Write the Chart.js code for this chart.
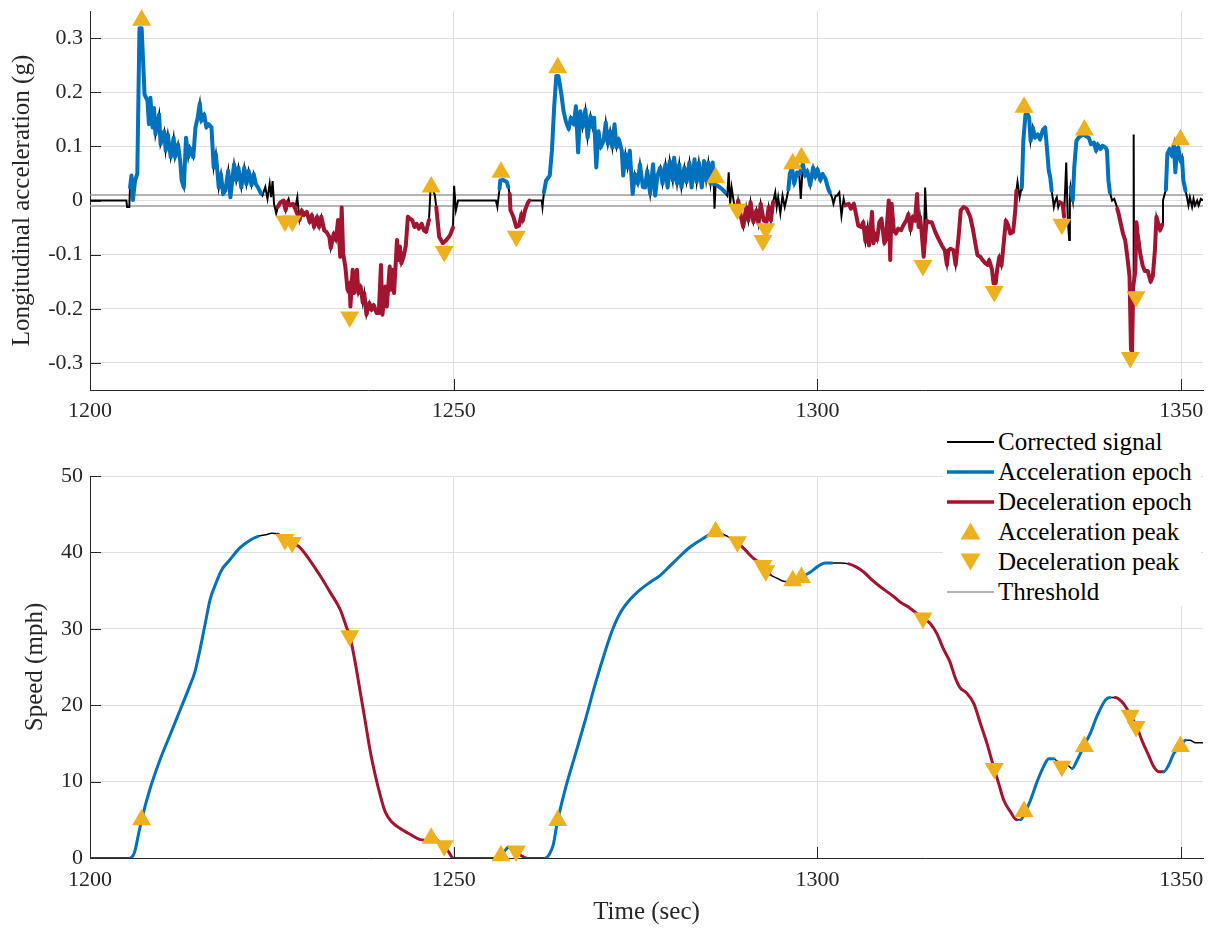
<!DOCTYPE html>
<html>
<head>
<meta charset="utf-8">
<script src="https://cdn.jsdelivr.net/npm/chart.js@4/dist/chart.umd.min.js"></script>
<style>
  body { margin: 0; background: #fff; }
  #wrap { position: relative; width: 1214px; height: 928px; }
  canvas { position: absolute; left: 0; }
  #accChart { top: 0; }
  #speedChart { top: 420px; }
  #legend { position: absolute; left: 943px; top: 424px; width: 258px; height: 182px; background: #fff; }
  .row { position: absolute; left: 0; height: 24px; width: 258px; }
  .row svg { position: absolute; left: 2px; top: 0; }
  .row span { position: absolute; left: 55px; top: -2px; line-height: 24px; font: 25px "Liberation Serif", serif; color: #000; white-space: nowrap; }
</style>
</head>
<body>
<div id="wrap">
  <canvas id="accChart" width="1214" height="420"></canvas>
  <canvas id="speedChart" width="1214" height="508"></canvas>
  <div id="legend"></div>
</div>
<script>
// time axis
const timeTicks = [1200, 1250, 1300, 1350];
const accTicks = [-0.3, -0.2, -0.1, 0, 0.1, 0.2, 0.3];
const speedTicks = [0, 10, 20, 30, 40, 50];
const thresholdLevels = [0.01, -0.01];

// epochs [start, end] in sec
const accelEpochs = [[1205.6, 1223.5], [1256.3, 1257.5], [1262.5, 1285.7], [1286.2, 1287.4], [1296.0, 1301.6], [1328.1, 1332.2], [1334.8, 1340.2], [1347.9, 1350.6]];
const decelEpochs = [[1225.8, 1246.6], [1247.6, 1249.9], [1257.7, 1260.4], [1289.0, 1293.9], [1303.7, 1327.3], [1333.3, 1334.0], [1341.2, 1347.4]];

// longitudinal acceleration (g), [time, value]
const accSignal = [
  [1200, 0], [1205.0, 0], [1205.1, -0.012], [1205.4, -0.012], [1205.5, 0.024], [1205.7, 0.046], [1205.9, 0.001], [1206.2, 0.037],
  [1206.5, 0.049], [1206.8, 0.318], [1207.1, 0.318], [1207.5, 0.196], [1207.9, 0.184], [1208.1, 0.141], [1208.3, 0.19], [1208.6, 0.135],
  [1208.8, 0.171], [1209.0, 0.122], [1209.5, 0.159], [1209.7, 0.104], [1210.2, 0.128], [1210.4, 0.092], [1210.7, 0.122], [1211.1, 0.08],
  [1211.5, 0.116], [1211.7, 0.08], [1212.1, 0.104], [1212.4, 0.073], [1212.6, 0.037], [1212.9, 0.024], [1213.2, 0.116], [1213.5, 0.08],
  [1213.7, 0.098], [1214.2, 0.08], [1214.5, 0.135], [1214.8, 0.153], [1215.1, 0.18], [1215.3, 0.147], [1215.7, 0.159], [1216.0, 0.135],
  [1216.3, 0.141], [1216.7, 0.135], [1217.0, 0.061], [1217.3, 0.086], [1217.7, 0.024], [1218.0, 0.049], [1218.3, 0.012], [1218.6, 0.018],
  [1219.0, 0.055], [1219.3, 0.006], [1219.8, 0.067], [1220.1, 0.037], [1220.4, 0.061], [1220.8, 0.024], [1221.2, 0.061], [1221.5, 0.03],
  [1221.8, 0.055], [1222.2, 0.028], [1222.5, 0.049], [1222.8, 0.03], [1223.1, 0.024], [1223.5, 0.013],
  [1223.7, 0.009], [1224.1, 0.025], [1224.4, 0.003], [1224.7, 0.031], [1224.9, 0.006], [1225.1, 0.036], [1225.3, -0.006], [1225.6, -0.024],
  [1225.8, -0.012], [1226.2, -0.003], [1226.6, 0.0], [1226.9, -0.018], [1227.1, -0.003], [1227.5, -0.009], [1227.9, -0.006], [1228.2, -0.015],
  [1228.8, -0.036], [1229.1, -0.018], [1229.4, -0.027], [1229.8, -0.021], [1230.2, -0.04], [1230.5, -0.027], [1230.8, -0.049], [1231.2, -0.03],
  [1231.5, -0.049], [1231.8, -0.03], [1232.2, -0.055], [1232.5, -0.058], [1232.9, -0.067], [1233.1, -0.088], [1233.5, -0.061], [1233.8, -0.073],
  [1234.1, -0.036], [1234.4, -0.104], [1234.6, -0.013], [1234.8, -0.098], [1235.1, -0.122], [1235.4, -0.165], [1235.7, -0.153], [1235.8, -0.196],
  [1236.1, -0.128], [1236.3, -0.171], [1236.7, -0.128], [1236.9, -0.171], [1237.2, -0.159], [1237.5, -0.189], [1237.7, -0.171], [1238.0, -0.211],
  [1238.4, -0.189], [1238.7, -0.202], [1239.0, -0.193], [1239.4, -0.208], [1239.7, -0.208], [1240.0, -0.119], [1240.2, -0.211], [1240.6, -0.159],
  [1240.8, -0.196], [1241.2, -0.122], [1241.4, -0.165], [1241.6, -0.128], [1241.8, -0.171], [1242.2, -0.073], [1242.4, -0.11], [1242.6, -0.085],
  [1242.8, -0.116], [1243.1, -0.104], [1243.4, -0.085], [1243.7, -0.03], [1244.0, -0.034], [1244.3, -0.036], [1244.6, -0.049], [1244.9, -0.043],
  [1245.2, -0.052], [1245.6, -0.043], [1245.9, -0.055], [1246.2, -0.058], [1246.6, -0.036],
  [1246.8, 0.018], [1247.1, 0.022], [1247.4, 0.01], [1247.6, -0.012],
  [1248.0, -0.067], [1248.5, -0.079], [1249.0, -0.073], [1249.5, -0.064], [1249.9, -0.05],
  [1250.05, 0.027], [1250.3, -0.018], [1250.6, 0.0], [1255.8, 0.0], [1256.0, -0.012], [1256.3, 0.022],
  [1256.4, 0.037], [1256.8, 0.038], [1257.3, 0.034], [1257.5, 0.025], [1257.7, 0.012],
  [1257.8, -0.018], [1258.2, -0.03], [1258.6, -0.049], [1259.0, -0.046], [1259.3, -0.025], [1259.5, -0.037], [1259.8, -0.018], [1260.2, -0.004], [1260.4, 0.0],
  [1262.1, 0.0], [1262.2, -0.012], [1262.4, 0.015],
  [1262.7, 0.037], [1263.2, 0.046], [1263.5, 0.092], [1263.8, 0.171], [1264.1, 0.23], [1264.4, 0.23], [1264.8, 0.196], [1265.1, 0.165],
  [1265.4, 0.147], [1265.8, 0.132], [1266.1, 0.153], [1266.5, 0.141], [1266.8, 0.174], [1267.1, 0.089], [1267.4, 0.165], [1267.7, 0.135],
  [1268.1, 0.168], [1268.4, 0.116], [1268.8, 0.156], [1269.1, 0.135], [1269.3, 0.153], [1269.6, 0.061], [1269.9, 0.128], [1270.2, 0.098],
  [1270.6, 0.11], [1270.9, 0.144], [1271.2, 0.104], [1271.5, 0.128], [1271.8, 0.098], [1272.1, 0.141], [1272.4, 0.098], [1272.7, 0.113],
  [1273.1, 0.092], [1273.3, 0.046], [1273.6, 0.086], [1273.9, 0.061], [1274.2, 0.092], [1274.6, 0.012], [1274.9, 0.049], [1275.3, 0.031],
  [1275.6, 0.067], [1276.0, 0.025], [1276.3, 0.024], [1276.6, 0.055], [1277.0, 0.012], [1277.4, 0.067], [1277.7, 0.009], [1278.0, 0.046],
  [1278.4, 0.061], [1278.7, 0.031], [1279.1, 0.067], [1279.4, 0.024], [1279.7, 0.073], [1280.1, 0.037], [1280.3, 0.079], [1280.7, 0.031],
  [1281.0, 0.067], [1281.3, 0.024], [1281.7, 0.061], [1282.0, 0.034], [1282.4, 0.07], [1282.7, 0.024], [1283.1, 0.076], [1283.4, 0.034],
  [1283.7, 0.07], [1284.1, 0.024], [1284.4, 0.073], [1284.7, 0.037], [1285.0, 0.07], [1285.3, 0.031], [1285.6, 0.07],
  [1285.75, 0.03], [1285.85, -0.015], [1286.0, 0.03], [1286.2, 0.028],
  [1286.5, 0.025], [1286.9, 0.021], [1287.3, 0.015],
  [1287.6, 0.009], [1287.8, 0.052], [1288.0, -0.006], [1288.2, 0.024], [1288.5, -0.003], [1288.8, -0.021], [1289.0, -0.01],
  [1289.1, 0.0], [1289.5, -0.031], [1289.8, -0.049], [1290.2, -0.012], [1290.5, -0.037], [1290.8, -0.003], [1291.2, -0.04], [1291.6, -0.018],
  [1291.9, -0.043], [1292.2, -0.006], [1292.6, -0.037], [1293.0, -0.04], [1293.3, -0.012], [1293.6, -0.037], [1293.9, -0.003],
  [1294.2, 0.015], [1294.4, -0.012], [1294.6, 0.006], [1294.9, -0.024], [1295.2, 0.009], [1295.5, -0.012], [1295.8, 0.006], [1296.0, 0.02],
  [1296.2, 0.049], [1296.5, 0.061], [1296.8, 0.031], [1297.2, 0.052], [1297.5, 0.049], [1298.0, 0.067], [1298.3, 0.046], [1298.6, 0.055],
  [1299.0, 0.028], [1299.4, 0.061], [1299.7, 0.043], [1300.0, 0.058], [1300.4, 0.037], [1300.7, 0.049], [1301.1, 0.04], [1301.5, 0.021],
  [1301.7, 0.015], [1302.0, 0.006], [1302.2, -0.006], [1302.5, 0.009], [1302.7, 0.009], [1303.0, 0.015], [1303.3, -0.028], [1303.6, 0.003],
  [1303.8, -0.009], [1304.3, -0.006], [1304.6, -0.015], [1305.0, -0.006], [1305.3, -0.025], [1305.6, -0.046], [1306.0, -0.049], [1306.3, -0.04],
  [1306.6, -0.076], [1306.9, -0.049], [1307.1, -0.083], [1307.5, -0.021], [1307.7, -0.079], [1307.9, -0.061], [1308.2, -0.073], [1308.5, -0.04],
  [1308.8, -0.034], [1309.2, -0.079], [1309.4, -0.073], [1309.8, 0.0], [1310.0, -0.11], [1310.2, -0.006], [1310.5, -0.055], [1310.8, -0.061],
  [1311.1, -0.052], [1311.5, -0.055], [1311.8, -0.046], [1312.2, -0.037], [1312.5, -0.025], [1312.8, -0.055], [1313.1, -0.03], [1313.4, -0.037],
  [1313.7, 0.012], [1313.9, -0.049], [1314.1, -0.03], [1314.3, -0.055], [1314.6, -0.104], [1315.0, -0.037], [1315.3, -0.04], [1315.7, -0.04],
  [1316.2, -0.058], [1316.6, -0.07], [1317.1, -0.083], [1317.5, -0.092], [1317.8, -0.119], [1318.0, -0.092], [1318.3, -0.089], [1318.7, -0.092],
  [1319.0, -0.119], [1319.4, -0.067], [1319.7, -0.018], [1320.1, -0.012], [1320.5, -0.015], [1321.0, -0.03], [1321.4, -0.055], [1321.7, -0.079],
  [1322.0, -0.101], [1322.4, -0.104], [1322.7, -0.11], [1323.1, -0.116], [1323.4, -0.119], [1323.6, -0.11], [1324.0, -0.128], [1324.2, -0.153],
  [1324.5, -0.153], [1324.7, -0.128], [1325.0, -0.104], [1325.3, -0.12], [1325.6, -0.08], [1325.9, -0.037], [1326.2, -0.045], [1326.5, -0.061],
  [1326.9, -0.058], [1327.2, -0.018],
  [1327.35, 0.018], [1327.5, 0.034], [1327.8, 0.006], [1328.0, 0.02],
  [1328.1, 0.024], [1328.3, 0.11], [1328.6, 0.159], [1328.9, 0.159], [1329.1, 0.153], [1329.3, 0.11], [1329.6, 0.135], [1329.9, 0.116],
  [1330.3, 0.122], [1330.6, 0.113], [1331.0, 0.131], [1331.3, 0.135], [1331.5, 0.104], [1331.8, 0.055], [1332.0, 0.043], [1332.2, 0.018],
  [1332.5, -0.012], [1332.7, 0.0], [1332.9, 0.006], [1333.1, -0.012], [1333.3, -0.003],
  [1333.7, -0.006], [1333.9, -0.03], [1334.0, -0.03],
  [1334.2, 0.07], [1334.4, -0.03], [1334.6, -0.073], [1334.7, 0.0], [1334.8, 0.024],
  [1335.1, 0.0], [1335.3, 0.061], [1335.6, 0.11], [1335.9, 0.116], [1336.2, 0.119], [1336.6, 0.122], [1336.9, 0.119], [1337.3, 0.116],
  [1337.6, 0.104], [1338.0, 0.107], [1338.3, 0.092], [1338.5, 0.104], [1338.9, 0.095], [1339.2, 0.101], [1339.6, 0.098], [1339.8, 0.092],
  [1340.0, 0.037], [1340.2, 0.015],
  [1340.5, 0.0], [1340.8, 0.003], [1341.1, -0.009], [1341.2, -0.015],
  [1341.4, -0.024], [1341.7, -0.043], [1342.0, -0.061], [1342.3, -0.073], [1342.6, -0.104], [1342.9, -0.14], [1343.1, -0.275], [1343.25, -0.28],
  [1343.4, -0.16], [1343.7, -0.13], [1343.85, -0.04], [1344.0, -0.06], [1344.4, -0.1], [1344.7, -0.12], [1345.0, -0.13], [1345.4, -0.13],
  [1345.8, -0.15], [1346.1, -0.14], [1346.4, -0.09], [1346.6, -0.03], [1346.8, -0.04], [1347.1, -0.055], [1347.4, -0.045],
  [1347.5, 0.0], [1347.7, 0.01], [1347.9, 0.02],
  [1348.1, 0.086], [1348.4, 0.095], [1348.7, 0.083], [1349.0, 0.104], [1349.2, 0.052], [1349.4, 0.095], [1349.6, 0.098], [1349.9, 0.073],
  [1350.1, 0.08], [1350.3, 0.037], [1350.6, 0.018],
  [1350.8, 0.006], [1351.0, -0.009], [1351.2, 0.006], [1351.5, -0.012], [1351.7, 0.003], [1351.9, -0.009], [1352.2, 0.0], [1352.4, -0.009],
  [1352.7, 0.003], [1353, 0.0]
];

// raw spikes that only the corrected signal shows
const accSpikes = [[1227.3, 0.003], [1228.5, 0.006], [1297.7, 0.003], [1314.8, 0.024], [1343.47, 0.122], [1343.52, -0.15]];

// speed (mph), [time, value]
const speedSignal = [
  [1200, 0], [1205.5, 0], [1205.9, 0.3], [1206.2, 1.0], [1206.6, 2.8], [1207.1, 5.0], [1208.2, 8.9], [1209.6, 12.8], [1211.0, 16.1],
  [1212.4, 19.4], [1213.7, 22.5], [1214.4, 24.3], [1215.1, 27.2], [1215.8, 30.5], [1216.5, 33.8], [1217.2, 35.7], [1218.1, 37.7],
  [1219.2, 39.0], [1220.6, 40.6], [1222.0, 41.6], [1223.1, 42.1], [1224.1, 42.3], [1225.0, 42.5], [1225.8, 42.4], [1226.8, 41.8],
  [1227.8, 41.3], [1228.9, 40.6], [1230.2, 39.0], [1231.6, 37.0], [1233.0, 34.8], [1234.4, 32.5], [1235.3, 30.1], [1235.7, 29.1],
  [1236.4, 25.9], [1237.1, 22.0], [1237.8, 18.1], [1238.5, 14.1], [1239.2, 10.9], [1239.9, 8.2], [1240.6, 6.0], [1241.5, 4.7],
  [1242.6, 3.9], [1244.0, 3.1], [1245.4, 2.4], [1246.6, 2.3], [1247.1, 2.5], [1247.6, 2.4], [1248.2, 1.9], [1248.7, 1.4], [1249.3, 0.8],
  [1249.9, 0], [1256.0, 0], [1256.5, 0.3], [1257.0, 0.9], [1257.5, 1.4], [1258.0, 1.2], [1258.6, 0.8], [1259.3, 0.3], [1260.0, 0],
  [1262.6, 0], [1263.2, 0.6], [1263.7, 1.8], [1264.2, 4.5], [1265.3, 8.9], [1266.7, 13.5], [1268.1, 18.1], [1269.4, 22.6], [1270.8, 27.0],
  [1271.8, 29.8], [1272.9, 32.1], [1274.2, 33.8], [1275.6, 35.1], [1277.0, 36.1], [1278.4, 37.0], [1279.7, 38.2], [1281.1, 39.5],
  [1282.5, 40.7], [1283.9, 41.6], [1285.3, 42.4], [1285.9, 42.6], [1286.9, 42.4], [1288.0, 41.9], [1289.1, 41.2], [1290.1, 40.3],
  [1291.0, 39.4], [1292.0, 38.6], [1292.8, 37.8], [1293.5, 37.1], [1294.5, 36.6], [1295.5, 36.2], [1296.3, 36.2], [1296.8, 36.4],
  [1297.8, 36.8], [1299.0, 37.4], [1300.1, 38.2], [1301.1, 38.6], [1302.0, 38.6], [1303.1, 38.6], [1304.3, 38.5], [1305.3, 38.1],
  [1306.4, 37.4], [1307.5, 36.4], [1308.5, 35.6], [1309.5, 34.9], [1310.5, 34.2], [1311.5, 33.4], [1312.6, 32.8], [1313.5, 32.1],
  [1314.5, 31.4], [1315.5, 30.7], [1316.4, 29.4], [1317.3, 27.4], [1318.2, 25.7], [1318.9, 23.7], [1319.6, 22.3], [1320.5, 21.6],
  [1321.5, 20.2], [1322.4, 17.6], [1323.3, 15.0], [1324.2, 12.0], [1324.9, 9.8], [1325.6, 7.6], [1326.5, 6.1], [1327.4, 5.0],
  [1327.9, 5.0], [1328.6, 6.1], [1329.3, 7.6], [1330.2, 10.0], [1331.1, 12.0], [1331.8, 13.0], [1332.5, 13.0], [1333.0, 12.6],
  [1333.6, 12.0], [1334.3, 12.2], [1335.0, 11.7], [1335.7, 12.8], [1336.6, 14.6], [1337.5, 16.3], [1338.4, 18.5], [1339.6, 20.7],
  [1340.2, 21.0], [1340.9, 21.0], [1341.8, 20.5], [1342.5, 19.6], [1343.0, 18.7], [1343.9, 17.2], [1344.6, 15.4], [1345.5, 13.5],
  [1346.2, 12.0], [1346.9, 11.3], [1347.6, 11.3], [1348.3, 12.2], [1349.0, 13.7], [1349.9, 14.6], [1350.6, 15.4], [1351.2, 15.4],
  [1351.9, 15.1], [1353, 15.1]
];

// detected peaks
const accPeakTime = [1207.1, 1246.9, 1256.5, 1264.3, 1286.0, 1296.6, 1297.8, 1328.4, 1336.7, 1349.9];
const accPeakAcc = [0.333, 0.025, 0.052, 0.245, 0.042, 0.068, 0.079, 0.172, 0.13, 0.112];
const accPeakSpeed = [5.0, 2.6, 0.3, 4.9, 42.7, 36.3, 36.7, 6.1, 14.6, 14.6];
const decPeakTime = [1226.8, 1227.8, 1235.7, 1248.7, 1258.6, 1289.0, 1292.5, 1292.9, 1314.5, 1324.3, 1333.6, 1343.0, 1343.8];
const decPeakAcc = [-0.038, -0.038, -0.215, -0.094, -0.066, -0.016, -0.074, -0.052, -0.12, -0.168, -0.044, -0.29, -0.178];
const decPeakSpeed = [41.7, 41.3, 29.1, 1.6, 0.9, 41.4, 38.3, 37.6, 31.4, 11.7, 12.0, 18.7, 17.2];

const BLUE = '#0072BD';
const RED = '#A2142F';
const GOLD = '#EDB120';
const GRID = '#dfdfdf';
const AXIS = '#262626';
const FONT = '"Liberation Serif", "Times New Roman", serif';

const toXY = (pairs) => pairs.map(([x, y]) => ({ x, y }));
const inEpoch = (list, t) => list.some(([a, b]) => t >= a && t <= b);
const epochColor = (ctx) => {
  const t = (ctx.p0.parsed.x + ctx.p1.parsed.x) / 2;
  if (inEpoch(accelEpochs, t)) return BLUE;
  if (inEpoch(decelEpochs, t)) return RED;
  return 'rgba(0,0,0,0)';
};

const inwardTicks = {
  id: 'inwardTicks',
  afterDraw(chart) {
    const { ctx, chartArea, scales } = chart;
    ctx.save();
    ctx.strokeStyle = AXIS;
    ctx.lineWidth = 1;
    ctx.beginPath();
    scales.y.ticks.forEach((t) => {
      const y = Math.round(scales.y.getPixelForValue(t.value)) + 0.5;
      ctx.moveTo(chartArea.left, y);
      ctx.lineTo(chartArea.left + 11, y);
    });
    scales.x.ticks.forEach((t) => {
      const x = Math.round(scales.x.getPixelForValue(t.value)) + 0.5;
      ctx.moveTo(x, chartArea.bottom);
      ctx.lineTo(x, chartArea.bottom - 11);
    });
    ctx.stroke();
    ctx.restore();
  },
};

function xScale(height, pad, title) {
  return {
    type: 'linear',
    min: 1200,
    max: 1353,
    afterBuildTicks: (s) => { s.ticks = timeTicks.map((v) => ({ value: v })); },
    afterFit: (s) => { s.height = height; s.paddingLeft = 0; s.paddingRight = 0; },
    grid: { color: GRID, drawTicks: false },
    border: { display: true, color: AXIS, width: 1 },
    ticks: { padding: pad, color: AXIS, font: { family: FONT, size: 22 }, maxRotation: 0, autoSkip: false, callback: (v) => String(v) },
    title: title ? { display: true, text: title, color: AXIS, font: { family: FONT, size: 25 }, padding: { top: 0, bottom: 1 } } : { display: false },
  };
}

function yScale(min, max, ticks, title, titlePad, fmt) {
  return {
    min,
    max,
    afterBuildTicks: (s) => { s.ticks = ticks.map((v) => ({ value: v })); },
    afterFit: (s) => { s.width = 90; s.paddingTop = 0; s.paddingBottom = 0; },
    grid: { color: GRID, drawTicks: false },
    border: { display: true, color: AXIS, width: 1 },
    ticks: { padding: 7, color: AXIS, font: { family: FONT, size: 22 }, autoSkip: false, callback: fmt },
    title: { display: true, text: title, color: AXIS, font: { family: FONT, size: 25 }, padding: { top: titlePad, bottom: 0 } },
  };
}

function peakSets(upY, downY) {
  return [
    { data: accPeakTime.map((t, i) => ({ x: t, y: upY[i] })), showLine: false, pointStyle: 'triangle', pointRadius: 11, pointRotation: 0, backgroundColor: GOLD, borderWidth: 0, clip: false },
    { data: decPeakTime.map((t, i) => ({ x: t, y: downY[i] })), showLine: false, pointStyle: 'triangle', pointRadius: 11, pointRotation: 180, backgroundColor: GOLD, borderWidth: 0, clip: false },
  ];
}

const commonOptions = {
  responsive: false,
  animation: false,
  events: [],
  plugins: { legend: { display: false }, tooltip: { enabled: false } },
};

const correctedAcc = [...accSignal, ...accSpikes].sort((a, b) => a[0] - b[0]);

new Chart(document.getElementById('accChart'), {
  type: 'line',
  data: {
    datasets: [
      ...peakSets(accPeakAcc, decPeakAcc),
      { data: toXY(accSignal), borderWidth: 4, pointRadius: 0, borderJoinStyle: 'round', borderCapStyle: 'round', segment: { borderColor: epochColor } },
      { data: toXY(correctedAcc), borderColor: '#000', borderWidth: 2, pointRadius: 0 },
      ...thresholdLevels.map((lvl) => ({ data: [{ x: 1200, y: lvl }, { x: 1353, y: lvl }], borderColor: '#9a9a9a', borderWidth: 1.5, pointRadius: 0 })),
    ],
  },
  options: {
    ...commonOptions,
    layout: { padding: { top: 8, right: 11, left: 0, bottom: 0 } },
    scales: {
      x: xScale(30, 8, null),
      y: yScale(-0.35, 0.35, accTicks, 'Longitudinal acceleration (g)', 7, (v) => (v === 0 ? '0' : v.toFixed(1))),
    },
  },
  plugins: [inwardTicks],
});

new Chart(document.getElementById('speedChart'), {
  type: 'line',
  data: {
    datasets: [
      ...peakSets(accPeakSpeed, decPeakSpeed),
      { data: toXY(speedSignal), borderWidth: 3, pointRadius: 0, cubicInterpolationMode: 'monotone', borderJoinStyle: 'round', borderCapStyle: 'round', segment: { borderColor: epochColor } },
      { data: toXY(speedSignal), borderColor: '#000', borderWidth: 1.5, pointRadius: 0, cubicInterpolationMode: 'monotone' },
    ],
  },
  options: {
    ...commonOptions,
    layout: { padding: { top: 56, right: 11, left: 0, bottom: 0 } },
    scales: {
      x: xScale(70, 9, 'Time (sec)'),
      y: yScale(0, 50, speedTicks, 'Speed (mph)', 20, (v) => String(v)),
    },
  },
  plugins: [inwardTicks],
});

// legend
const legendItems = [
  { label: 'Corrected signal', kind: 'line', color: '#000', width: 2 },
  { label: 'Acceleration epoch', kind: 'line', color: BLUE, width: 3.5 },
  { label: 'Deceleration epoch', kind: 'line', color: RED, width: 3.5 },
  { label: 'Acceleration peak', kind: 'up' },
  { label: 'Deceleration peak', kind: 'down' },
  { label: 'Threshold', kind: 'line', color: '#9a9a9a', width: 1.5 },
];
const legend = document.getElementById('legend');
legendItems.forEach((item, i) => {
  const row = document.createElement('div');
  row.className = 'row';
  row.style.top = (6 + i * 30) + 'px';
  let mark;
  if (item.kind === 'line') {
    mark = `<line x1="2" y1="12" x2="49" y2="12" stroke="${item.color}" stroke-width="${item.width}"/>`;
  } else if (item.kind === 'up') {
    mark = `<polygon points="15.5,2.5 35.5,2.5 25.5,19.5" fill="${GOLD}" transform="rotate(180 25.5 11)"/>`;
  } else {
    mark = `<polygon points="15.5,3.5 35.5,3.5 25.5,20.5" fill="${GOLD}"/>`;
  }
  row.innerHTML = `<svg width="52" height="24">${mark}</svg><span>${item.label}</span>`;
  legend.appendChild(row);
});
</script>
</body>
</html>
